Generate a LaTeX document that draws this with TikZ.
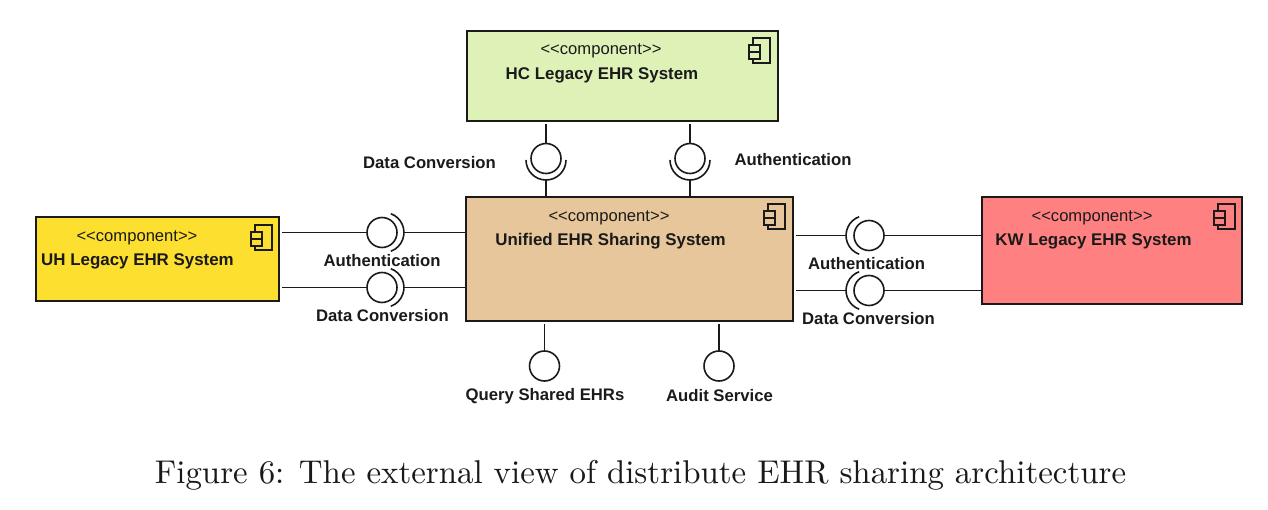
\documentclass[tikz,border=0pt]{standalone}
\usepackage{fontspec}
\setsansfont{Liberation Sans}
\definecolor{hccol}{HTML}{DEF2B8}
\definecolor{ucol}{HTML}{E6C69A}
\definecolor{uhcol}{HTML}{FCDF2F}
\definecolor{kwcol}{HTML}{FF8080}
\definecolor{ink}{HTML}{1A1A1A}
\newcommand{\stereotext}{<{}<component>{}>}
\tikzset{
  comp/.style={draw=ink,line width=1.5pt,inner sep=0pt,outer sep=0pt},
  stereo/.style={font=\sffamily\fontsize{16.6}{18}\selectfont,text=ink,inner sep=0pt},
  cname/.style={font=\sffamily\bfseries\fontsize{16.9}{18}\selectfont,text=ink,inner sep=0pt},
  iflabel/.style={font=\sffamily\bfseries\fontsize{16.7}{18}\selectfont,text=ink,inner sep=0pt},
  ball/.style={draw=ink,line width=1.6pt,circle,minimum size=30pt,inner sep=0pt,outer sep=0pt,fill=white},
  wire/.style={draw=ink,line width=1.6pt},
  sock/.style={draw=ink,line width=1.6pt},
  icon/.style={draw=ink,line width=1.4pt},
}
\newcommand{\compicon}[3]{% right-top corner x,y ; colour
  \draw[icon] (#1-17,#2) rectangle (#1,#2+25);
  \draw[icon,fill=#3] (#1-21,#2+7) rectangle (#1-10,#2+14);
  \draw[icon,fill=#3] (#1-21,#2+14) rectangle (#1-10,#2+21);
}
\begin{document}
\begin{tikzpicture}[x=1pt,y=-1pt]
\useasboundingbox (0,0) rectangle (1268,510);
% components
\node[comp,fill=hccol,minimum width=311pt,minimum height=90pt] (hc) at (622.5,76) {};
\node[comp,fill=ucol,minimum width=327pt,minimum height=124pt] (un) at (629.5,259) {};
\node[comp,fill=uhcol,minimum width=243pt,minimum height=84pt] (uh) at (157.5,259) {};
\node[comp,fill=kwcol,minimum width=260pt,minimum height=107pt] (kw) at (1112,250.5) {};
\compicon{770}{38}{hccol}
\compicon{785}{204}{ucol}
\compicon{272}{225}{uhcol}
\compicon{1235}{204}{kwcol}
\node[stereo] (s1) at (601,51) {\stereotext};
\node[cname] (n1) at (602,75.5) {HC Legacy EHR System};
\node[stereo] (s2) at (609,218) {\stereotext};
\node[cname] (n2) at (610.5,241.5) {Unified EHR Sharing System};
\node[stereo] (s3) at (137,238) {\stereotext};
\node[cname] (n3) at (137.5,261.5) {UH Legacy EHR System};
\node[stereo] (s4) at (1092,218) {\stereotext};
\node[cname] (n4) at (1093.5,241.5) {KW Legacy EHR System};
% top interfaces
\node[ball] (b1) at (546,158.5) {};
\node[ball] (b2) at (690,158.5) {};
\coordinate (b1s) at (546,180);
\coordinate (b2s) at (690,180);
\coordinate (b1t) at (546,124);
\coordinate (b2t) at (690,124);
\draw[wire] (b1t) -- (b1.north);
\draw[wire] (b2t) -- (b2.north);
\draw[wire] (b1s) -- (b1s |- un.north);
\draw[wire] (b2s) -- (b2s |- un.north);
\draw[sock] (526,160) arc[start angle=180,end angle=0,radius=20];
\draw[sock] (670,160) arc[start angle=180,end angle=0,radius=20];
% left interfaces
\node[ball] (b3) at (382,232.5) {};
\node[ball] (b4) at (382,287.5) {};
\coordinate (b3l) at (282,232.5);
\coordinate (b4l) at (282,287.5);
\coordinate (b3r) at (404,232.5);
\coordinate (b4r) at (404,287.5);
\draw[wire] (b3l) -- (b3.west);
\draw[wire] (b4l) -- (b4.west);
\draw[wire] (b3r) -- (b3r -| un.west);
\draw[wire] (b4r) -- (b4r -| un.west);
\draw[sock] (390.8,213.7) arc[start angle=-70,end angle=70,radius=20];
\draw[sock] (390.8,268.7) arc[start angle=-70,end angle=70,radius=20];
% right interfaces
\node[ball] (b5) at (869,235.5) {};
\node[ball] (b6) at (869,290.5) {};
\coordinate (b5l) at (796,235.5);
\coordinate (b6l) at (796,290.5);
\coordinate (b5s) at (846,235.5);
\coordinate (b6s) at (846,290.5);
\draw[wire] (b5l) -- (b5s);
\draw[wire] (b6l) -- (b6s);
\draw[wire] (b5.east) -- (b5.east -| kw.west);
\draw[wire] (b6.east) -- (b6.east -| kw.west);
\draw[sock] (859.2,216.7) arc[start angle=-110,end angle=-250,radius=20];
\draw[sock] (859.2,271.7) arc[start angle=-110,end angle=-250,radius=20];
% bottom interfaces
\node[ball] (b7) at (544.5,366) {};
\node[ball] (b8) at (719,366) {};
\coordinate (b7t) at (544.5,324);
\coordinate (b8t) at (719,324);
\draw[wire] (b7t) -- (b7.north);
\draw[wire] (b8t) -- (b8.north);
% labels
\node[iflabel] (l1) at (429.5,163) {Data Conversion};
\node[iflabel] (l2) at (793,160) {Authentication};
\node[iflabel] (l3) at (382,261) {Authentication};
\node[iflabel] (l4) at (382.5,316) {Data Conversion};
\node[iflabel] (l5) at (866.5,264) {Authentication};
\node[iflabel] (l6) at (868.5,319) {Data Conversion};
\node[iflabel] (l7) at (545,396.5) {Query Shared EHRs};
\node[iflabel] (l8) at (719.5,396) {Audit Service};
% caption
\node[inner sep=0pt,anchor=base,text=black!90] (cap) at (640.5,483) {\scalebox{3.005}{\fontsize{10.95}{13}\selectfont Figure 6: The external view of distribute EHR sharing architecture}};
\end{tikzpicture}
\end{document}
